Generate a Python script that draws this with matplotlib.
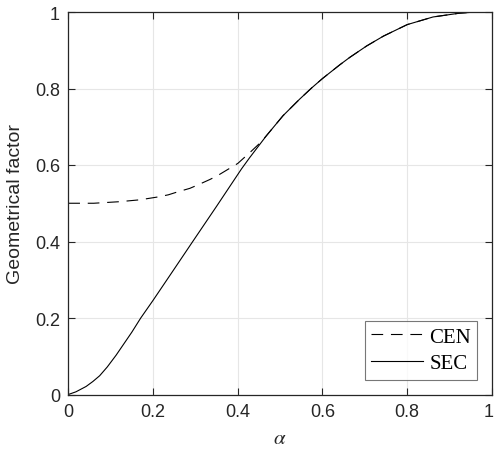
import matplotlib
matplotlib.use("Agg")
import matplotlib.pyplot as plt
import matplotlib.transforms as mtransforms

# Data
cen_x = [0.0, 0.06, 0.12, 0.169, 0.209, 0.236, 0.256, 0.287, 0.306, 0.334, 0.352, 0.379,
         0.40, 0.431, 0.453, 0.468,
         0.507, 0.546, 0.574, 0.60, 0.641, 0.664, 0.704, 0.744, 0.80, 0.861, 0.924, 0.963, 1.0]
cen_y = [0.500, 0.500, 0.504, 0.509, 0.516, 0.522, 0.529, 0.539, 0.548, 0.562, 0.572, 0.590,
         0.604, 0.635, 0.658, 0.677,
         0.729, 0.772, 0.801, 0.826, 0.862, 0.881, 0.911, 0.937, 0.967, 0.987, 0.997, 1.0, 1.0]

sec_x = [0.0, 0.018, 0.042, 0.058, 0.074, 0.092, 0.113, 0.15, 0.171, 0.20, 0.25, 0.295, 0.35,
         0.409, 0.428, 0.468, 0.507, 0.546, 0.574, 0.60, 0.641, 0.664, 0.704, 0.744, 0.80,
         0.861, 0.924, 0.963, 1.0]
sec_y = [0.0, 0.007, 0.021, 0.034, 0.049, 0.072, 0.103, 0.163, 0.200, 0.246, 0.328, 0.402, 0.492,
         0.590, 0.619, 0.677, 0.729, 0.772, 0.801, 0.826, 0.862, 0.881, 0.911, 0.937, 0.967,
         0.987, 0.997, 1.0, 1.0]

labels = ["CEN", "SEC"]
xticks = [0, 0.2, 0.4, 0.6, 0.8, 1]
yticks = [0, 0.2, 0.4, 0.6, 0.8, 1]
ticklabels = ['0', '0.2', '0.4', '0.6', '0.8', '1']

plt.rcParams['font.family'] = ['Liberation Sans', 'DejaVu Sans']
plt.rcParams['mathtext.fontset'] = 'stix'

fig = plt.figure(figsize=(4.94, 4.56), dpi=100)
ax = fig.add_axes([68.3/494, 1 - 395.5/456, 423.6/494, 382.5/456])

ax.plot(cen_x, cen_y, color='black', lw=0.8, linestyle=(0, (10.5, 7)), label=labels[0])
ax.plot(sec_x, sec_y, color='black', lw=0.8, linestyle='-', label=labels[1])

ax.set_xlim(0, 1)
ax.set_ylim(0, 1)
ax.set_xticks(xticks)
ax.set_yticks(yticks)
ax.set_xticklabels(ticklabels)
ax.set_yticklabels(ticklabels)
ax.tick_params(direction='in', top=True, right=True, length=5, width=0.8,
               labelsize=13, colors='#262626', pad=6)
ax.grid(True, color='#e6e6e6', lw=0.8)
ax.set_axisbelow(True)
for s in ax.spines.values():
    s.set_color('#262626')
    s.set_linewidth(0.9)

# keep the last x tick label inside the canvas
last = ax.get_xticklabels()[-1]
last.set_transform(last.get_transform() +
                   mtransforms.ScaledTranslation(-3/100, 0, fig.dpi_scale_trans))

ax.set_xlabel(r'$\alpha$', fontsize=15, color='#262626', labelpad=6)
ax.set_ylabel('Geometrical factor', fontsize=14, color='#262626', labelpad=8)

leg = ax.legend(loc='lower right', bbox_to_anchor=(1 - 14.6/423.6, 14.8/382.5),
                prop={'family': 'Liberation Serif', 'size': 15},
                frameon=True, fancybox=False, edgecolor='#555555',
                handlelength=2.5, handletextpad=0.3, borderpad=0.3,
                labelspacing=0.35, borderaxespad=0)
leg.get_frame().set_linewidth(0.8)

fig.savefig('out.png', dpi=100)
